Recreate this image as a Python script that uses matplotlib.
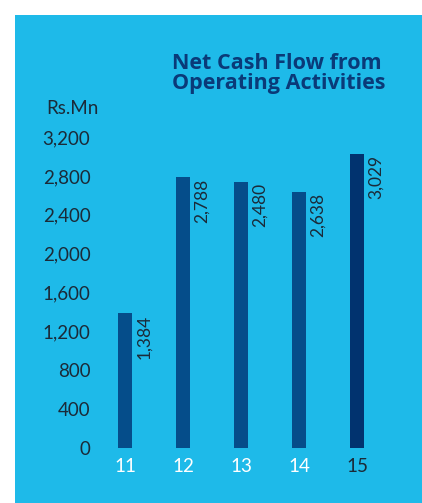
import matplotlib.pyplot as plt
from matplotlib.patches import Rectangle

years = ["11", "12", "13", "14", "15"]
bar_heights = [1384, 2788, 2740, 2638, 3029]
value_labels = ["1,384", "2,788", "2,480", "2,638", "3,029"]
yticks = [0, 400, 800, 1200, 1600, 2000, 2400, 2800, 3200]

plt.rcParams["font.family"] = ["Lato", "DejaVu Sans"]

panel = "#1EBAE9"
bar_col = ["#054D8A", "#054D8A", "#054D8A", "#054D8A", "#01336F"]
xlab_col = ["white", "white", "white", "white", "#1B2A38"]
dark = "#1B2A38"

W, H = 422, 503
fig = plt.figure(figsize=(W / 100, H / 100), dpi=100)
fig.patch.set_facecolor("white")
fig.patches.append(Rectangle((15 / W, 0), 1, 1 - 15 / H, transform=fig.transFigure,
                             facecolor=panel, edgecolor="none", zorder=-10))

ax = fig.add_axes([96 / W, 55 / H, 290 / W, 311 / H])
ax.set_facecolor("none")
x = range(len(years))
ax.bar(x, bar_heights, width=0.24, color=bar_col, zorder=2)
ax.set_xlim(-0.5, 4.5)
ax.set_ylim(0, 3200)
ax.set_yticks(yticks)
ax.set_yticklabels([f"{v:,}" for v in yticks], fontsize=13.5, color=dark)
ax.set_xticks(list(x))
ax.set_xticklabels(years, fontsize=13.5)
for t, c in zip(ax.get_xticklabels(), xlab_col):
    t.set_color(c)
ax.tick_params(length=0)
ax.tick_params(axis="y", pad=4)
ax.tick_params(axis="x", pad=7)
for s in ax.spines.values():
    s.set_visible(False)

for i, (h, lab) in enumerate(zip(bar_heights, value_labels)):
    ax.annotate(lab, (i + 0.12, h), xytext=(3, -1), textcoords="offset points",
                rotation=90, ha="left", va="top", fontsize=12.5, color=dark)

fig.text(172 / W, 1 - 53 / H, "Net Cash Flow from\nOperating Activities",
         fontsize=15.5, fontweight="bold", color="#0A3A78", ha="left", va="top",
         linespacing=0.92, family="Open Sans")
fig.text(46 / W, 1 - 108 / H, "Rs.Mn", fontsize=13.5, color=dark, ha="left", va="center")

fig.savefig("out.png", dpi=100)
